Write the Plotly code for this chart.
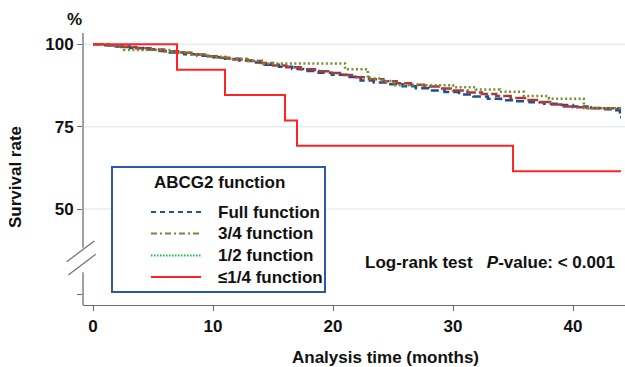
import plotly.graph_objects as go

# ---------------- data ----------------
T_FULL = [0, 0.8, 1.9, 3.1, 4.2, 5.3, 6.4, 7.6, 8.7, 9.8, 11.0, 12.2, 13.4, 14.3, 15.5, 16.6,
          17.7, 18.8, 19.9, 21.1, 22.3, 23.4, 24.6, 25.8, 26.9, 28.0, 29.3, 30.5, 31.7, 32.9,
          34.0, 35.2, 36.4, 37.6, 38.8, 40.0, 41.2, 42.4, 43.6, 43.9, 44.0]
S_FULL = [100, 99.7, 99.3, 98.9, 98.4, 98.0, 97.5, 97.0, 96.5, 96.1, 95.6, 95.1, 94.5, 93.8, 93.2, 92.5,
          91.9, 91.4, 90.8, 90.1, 89.0, 88.4, 87.9, 87.3, 86.7, 86.0, 85.5, 84.8, 84.2, 83.5,
          83.0, 82.7, 82.4, 82.0, 81.6, 81.1, 80.7, 80.3, 80.0, 77.9, 77.9]

T_34 = [0, 1.3, 2.4, 3.6, 4.8, 5.9, 7.1, 8.2, 9.4, 10.5, 11.7, 12.9, 14.0, 15.0, 16.1, 17.3,
        18.5, 19.6, 20.7, 21.9, 23.0, 24.2, 25.3, 26.5, 27.6, 28.8, 30.0, 31.2, 32.4, 33.6,
        34.8, 36.0, 37.2, 38.1, 39.0, 40.0, 41.5, 44.0]
S_34 = [100, 99.6, 99.2, 98.8, 98.4, 97.9, 97.4, 96.9, 96.4, 95.9, 95.4, 94.9, 94.3, 93.6, 93.0, 92.4,
        91.8, 91.3, 90.7, 90.0, 89.4, 88.8, 88.2, 87.7, 87.2, 86.6, 86.0, 85.4, 84.9, 84.3,
        83.7, 83.1, 82.5, 81.7, 81.1, 80.9, 80.6, 80.6]

T_12 = [0, 1.2, 2.6, 6.6, 8.0, 9.6, 11.2, 12.8, 14.2, 21.0, 22.9, 24.1, 25.0, 30.0, 31.9,
        33.9, 35.9, 38.0, 40.9, 44.0]
S_12 = [100, 99.6, 98.3, 97.6, 96.9, 96.2, 95.6, 95.0, 94.2, 92.4, 89.6, 88.9, 87.6, 87.0, 86.3,
        85.6, 84.3, 83.5, 80.6, 80.6]

T_LOW = [0, 7, 11, 16, 17, 35, 44]
S_LOW = [100, 92.3, 84.6, 76.9, 69.2, 61.5, 61.5]

X_TICKS = [0, 10, 20, 30, 40]
Y_TICKS = [24, 50, 75, 100]
Y_TICK_TEXT = ["", "50", "75", "100"]
GRID_VALUES = [50, 75, 100]

LEGEND_TITLE = "ABCG2 function"
LEGEND_LABELS = ["Full function", "3/4 function", "1/2 function", "\u22641/4 function"]

# ---------------- layout helpers ----------------
W, H = 625, 367
L, R, T, B = 83, 0, 33, 62
PW, PH = W - L - R, H - T - B


def px(xp):
    return (xp - L) / PW


def py(yp):
    return (H - B - yp) / PH


FONT = "Arial, Liberation Sans, sans-serif"
FS = 17
AXIS_COL = "#6e6e6e"
TXT = "#111111"

fig = go.Figure()

series = [
    (T_FULL, S_FULL, "#1f4f8c", "8px,4px", 2.5),
    (T_34, S_34, "#a83a3c", "11px,3px", 2.5),
    (T_12, S_12, "#6f922c", "2px,2.5px", 2.5),
    (T_LOW, S_LOW, "#ff2424", "solid", 2),
]
for t, s, c, d, w in series:
    fig.add_trace(go.Scatter(x=t, y=s, mode="lines", line=dict(color=c, dash=d, width=w, shape="hv"),
                             showlegend=False, hoverinfo="skip"))

shapes = []
for g in GRID_VALUES:
    shapes.append(dict(type="line", xref="paper", yref="y", x0=0, x1=1, y0=g, y1=g,
                       line=dict(color="#e6edf2", width=1.5), layer="below"))
# y axis line with break
shapes.append(dict(type="line", xref="paper", yref="paper", x0=0, x1=0, y0=1, y1=py(247.7),
                   line=dict(color=AXIS_COL, width=1.3)))
shapes.append(dict(type="line", xref="paper", yref="paper", x0=0, x1=0, y0=py(272.3), y1=0,
                   line=dict(color=AXIS_COL, width=1.3)))
shapes.append(dict(type="line", xref="paper", yref="paper", x0=px(94.3), x1=px(66.7), y0=py(241), y1=py(261.7),
                   line=dict(color=AXIS_COL, width=1.2)))
shapes.append(dict(type="line", xref="paper", yref="paper", x0=px(95.7), x1=px(68.3), y0=py(254.3), y1=py(275),
                   line=dict(color=AXIS_COL, width=1.2)))

# legend box
shapes.append(dict(type="rect", xref="paper", yref="paper", x0=px(112), x1=px(325), y0=py(167), y1=py(292),
                   line=dict(color="#2f57a3", width=2), fillcolor="white"))
leg_styles = [("#24528c", "5px,4px", 2), ("#6b8e3a", "6px,3px,2px,3px", 2),
              ("#10c040", "1.5px,1.5px", 2), ("#ff2424", "solid", 2)]
rows = [212, 233.5, 255.5, 277]
annotations = []
for (c, d, w), yy, lab in zip(leg_styles, rows, LEGEND_LABELS):
    shapes.append(dict(type="line", xref="paper", yref="paper", x0=px(151), x1=px(201), y0=py(yy), y1=py(yy),
                       line=dict(color=c, dash=d, width=w)))
    annotations.append(dict(xref="paper", yref="paper", x=px(216), y=py(yy), text=lab, showarrow=False,
                            xanchor="left", yanchor="middle"))
annotations.append(dict(xref="paper", yref="paper", x=px(219), y=py(182), text=LEGEND_TITLE, showarrow=False,
                        xanchor="center", yanchor="middle"))
annotations.append(dict(xref="paper", yref="paper", x=px(617), y=py(262),
                        text="Log-rank test   <i>P</i>-value: &lt; 0.001", showarrow=False,
                        xanchor="right", yanchor="middle"))
annotations.append(dict(xref="paper", yref="paper", x=px(74), y=py(20), text="%", showarrow=False,
                        xanchor="center", yanchor="middle"))
annotations.append(dict(xref="paper", yref="paper", x=px(385), y=py(357), text="Analysis time (months)",
                        showarrow=False, xanchor="center", yanchor="middle"))
annotations.append(dict(xref="paper", yref="paper", x=px(15), y=py(177), text="Survival rate",
                        showarrow=False, xanchor="center", yanchor="middle", textangle=-90))
for a in annotations:
    a["font"] = dict(family=FONT, size=FS, color=TXT, weight="bold")

fig.update_layout(
    width=W, height=H,
    margin=dict(l=L, r=R, t=T, b=B, pad=0),
    paper_bgcolor="white", plot_bgcolor="white",
    font=dict(family=FONT, size=FS, color=TXT),
    shapes=shapes, annotations=annotations,
    xaxis=dict(range=[-0.833, 44.33], tickvals=X_TICKS, ticks="outside", ticklen=5, tickwidth=1.3,
               tickcolor=AXIS_COL, showline=True, linecolor=AXIS_COL, linewidth=1.3, showgrid=False,
               zeroline=False, tickfont=dict(family=FONT, size=FS, color=TXT, weight="bold")),
    yaxis=dict(range=[20.9, 103.43], tickvals=Y_TICKS, ticktext=Y_TICK_TEXT, ticks="outside", ticklen=5,
               tickwidth=1.3, tickcolor=AXIS_COL, showline=False, showgrid=False, zeroline=False,
               tickfont=dict(family=FONT, size=FS, color=TXT, weight="bold")),
)

fig.write_html("out.html", config={"displayModeBar": False},
               post_script="document.body.style.margin='0';document.body.style.overflow='hidden';")
